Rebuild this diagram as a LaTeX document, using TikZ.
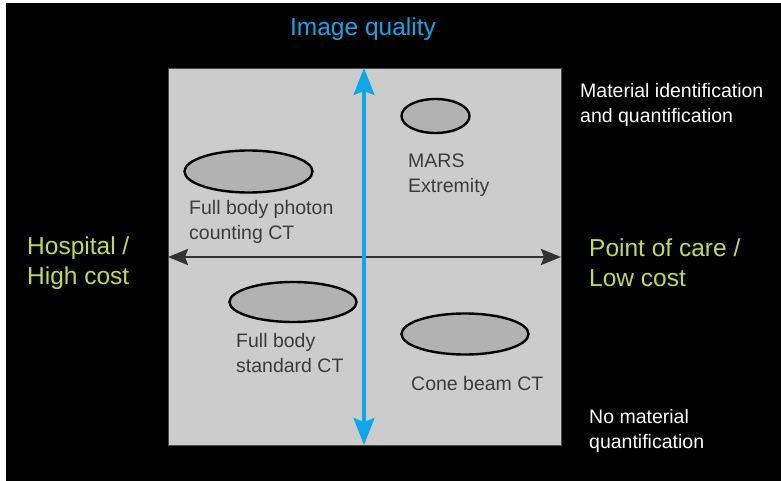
\documentclass[tikz,border=0pt]{standalone}
\usepackage{fontspec}
\setmainfont{Liberation Sans}
\usetikzlibrary{arrows.meta,shapes.geometric}
\definecolor{axisblue}{HTML}{0EA8EA}
\definecolor{sidegreen}{HTML}{C6D84E}
\definecolor{panelgray}{HTML}{CCCCCC}
\definecolor{blobgray}{HTML}{B2B2B2}
\definecolor{labelgray}{HTML}{3C3C3C}
\begin{document}
\begin{tikzpicture}[x=1pt,y=-1pt,
  blob/.style={ellipse, draw=black, line width=2.4pt, fill=blobgray, inner sep=0pt},
  biglabel/.style={font=\fontsize{24.5}{30}\selectfont, align=left, anchor=base west, inner sep=0pt},
  smalllabel/.style={font=\fontsize{19.5}{25}\selectfont, align=left, anchor=base west, inner sep=0pt},
  blobtext/.style={smalllabel, text=labelgray},
  sidetext/.style={smalllabel, text=white},
]
% page and dark background
\fill[white] (0,0) rectangle (781,481);
\fill[black] (6,3) rectangle (781,481);
\useasboundingbox (0,0) rectangle (781,481);

% central panel
\node[draw=black!70, line width=1.2pt, fill=panelgray, minimum width=393pt, minimum height=377pt, inner sep=0pt, anchor=north west] (panel) at (168,68) {};

% axis end points
\coordinate (left) at (168,257);
\coordinate (right) at (561,257);
\coordinate (top) at (364,68);
\coordinate (bottom) at (364,445);

% cost axis
\draw[black!80, line width=2.6pt, {Stealth[length=20pt,width=16pt,inset=3pt]}-{Stealth[length=20pt,width=16pt,inset=3pt]}] (left) -- (right);
% image quality axis
\draw[axisblue, line width=3.3pt, {Stealth[length=27pt,width=21pt,inset=4pt]}-{Stealth[length=27pt,width=21pt,inset=4pt]}] (bottom) -- (top);

% systems
\node[blob, minimum width=68pt, minimum height=34pt] (mars) at (435.5,116) {};
\node[blob, minimum width=128pt, minimum height=42pt] (pcct) at (248.5,171.5) {};
\node[blob, minimum width=127pt, minimum height=40pt] (stdct) at (293,302) {};
\node[blob, minimum width=127pt, minimum height=41pt] (cbct) at (465,334) {};

% labels (base anchor sits on the last line)
\node[blobtext] (marslab) at (408,193) {MARS\\Extremity};
\node[blobtext] (pcctlab) at (189,239) {Full body photon\\counting CT};
\node[blobtext] (stdctlab) at (236,372) {Full body\\standard CT};
\node[blobtext] (cbctlab) at (411,390) {Cone beam CT};

% axis titles
\node[font=\fontsize{24.5}{30}\selectfont, text=axisblue, anchor=base, inner sep=0pt] (quality) at (363,36) {Image quality};
\node[biglabel, text=sidegreen] (hospital) at (27,284) {Hospital /\\High cost};
\node[biglabel, text=sidegreen] (care) at (589,286) {Point of care /\\Low cost};
\node[sidetext] (matid) at (580,123) {Material identification\\and quantification};
\node[sidetext] (nomat) at (589,448) {No material\\quantification};
\end{tikzpicture}
\end{document}
